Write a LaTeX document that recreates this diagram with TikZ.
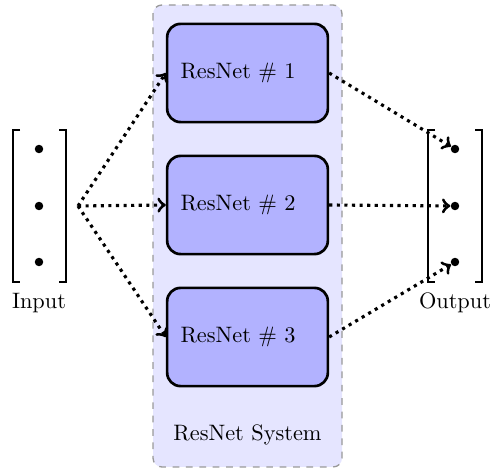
\documentclass[tikz,border=0pt]{standalone}
\usetikzlibrary{positioning}
\begin{document}
\begin{tikzpicture}[x=0.01575cm, y=-0.01575cm,
    net/.style={draw, line width=1.2pt, rounded corners=6pt, fill=blue!30,
      minimum height=44pt, text width=60pt, inner sep=6pt, align=left},
    vdot/.style={circle, fill, inner sep=0pt, minimum size=3.8pt},
    flow/.style={->, line width=1.4pt, dotted}]
  \useasboundingbox (0,0) rectangle (490,470);
  % system background, pixel grid 490 x 470, y down
  \draw[gray!80, dashed, line width=0.6pt, fill=blue!10, rounded corners=4pt]
    (153,5) rectangle (342,467);
  \foreach \k/\y in {1/73,2/205,3/337} {
    \node[net] (net\k) at (247.5,\y) {ResNet \# \k};
  }
  \node (sys) at (247.5,435) {ResNet System};
  % input and output vectors
  \foreach \k/\y in {1/149,2/206,3/262} {
    \node[vdot] (in\k) at (39,\y) {};
    \node[vdot] (out\k) at (455,\y) {};
  }
  \draw[thick] (20,130) -| (13,282) -- (20,282);
  \draw[thick] (59,130) -| (66,282) -- (59,282);
  \draw[thick] (435,130) -| (428,282) -- (435,282);
  \draw[thick] (475,130) -| (482,282) -- (475,282);
  \node (inlabel) at (39,303) {Input};
  \node (outlabel) at (455,303) {Output};
  % connections
  \coordinate (fork) at (78,206);
  \foreach \k in {1,2,3} {
    \draw[flow] (fork) -- (net\k.west);
    \draw[flow] (net\k.east) -- (out\k);
  }
\end{tikzpicture}
\end{document}
